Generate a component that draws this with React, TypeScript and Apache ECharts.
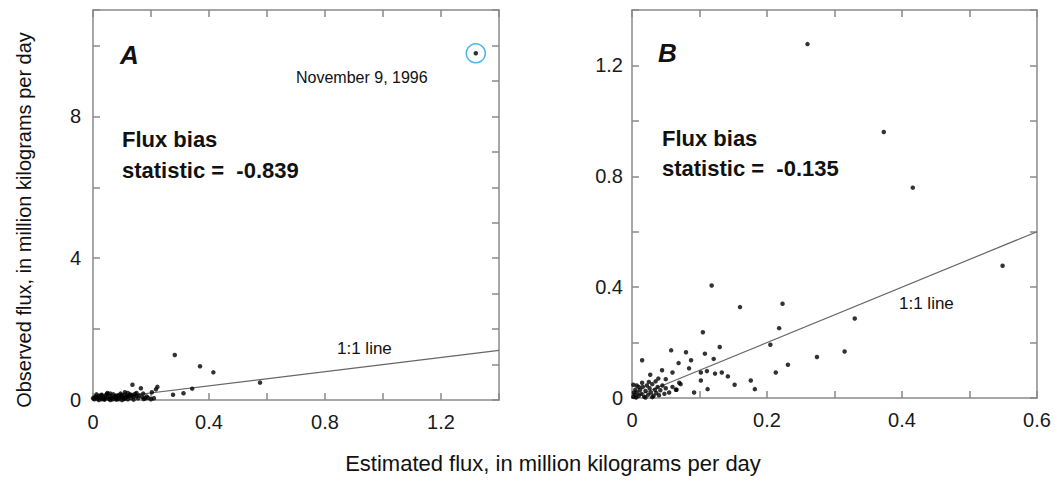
import React, { useEffect, useRef } from "react";
import * as echarts from "echarts";

// Panel A: estimated vs observed flux (million kg/day)
const aEstimated = [
  1.32, 0.282, 0.369, 0.415, 0.576, 0.342, 0.312, 0.276, 0.222, 0.217, 0.203, 0.136, 0.165, 0.18, 0.21, 0.173,
  0.005, 0.01, 0.015, 0.02, 0.025, 0.03, 0.035, 0.04, 0.045, 0.05, 0.055, 0.06, 0.065, 0.07, 0.075, 0.08,
  0.085, 0.09, 0.095, 0.1, 0.105, 0.11, 0.115, 0.12, 0.125, 0.13, 0.135, 0.14, 0.145, 0.15, 0.155, 0.16,
  0.17, 0.175, 0.185, 0.19, 0.2, 0.02, 0.04, 0.06, 0.08, 0.1, 0.12, 0.14, 0.03, 0.06, 0.09, 0.11, 0.15,
  0.008, 0.012, 0.05, 0.0, 0.018, 0.028, 0.038, 0.048, 0.068, 0.078, 0.088, 0.098, 0.108, 0.118, 0.128,
];
const aObserved = [
  9.78, 1.27, 0.95, 0.78, 0.49, 0.32, 0.19, 0.15, 0.37, 0.3, 0.22, 0.43, 0.33, 0.05, 0.05, 0.18,
  0.02, 0.08, 0.04, 0.12, 0.06, 0.02, 0.1, 0.05, 0.14, 0.08, 0.03, 0.11, 0.06, 0.16, 0.09, 0.04,
  0.13, 0.07, 0.18, 0.1, 0.05, 0.15, 0.08, 0.2, 0.12, 0.06, 0.14, 0.09, 0.17, 0.11, 0.05, 0.13,
  0.08, 0.03, 0.1, 0.06, 0.02, 0.0, 0.01, 0.0, 0.01, 0.0, 0.02, 0.01, 0.15, 0.18, 0.12, 0.22, 0.2,
  0.1, 0.16, 0.2, 0.05, 0.07, 0.13, 0.03, 0.17, 0.02, 0.12, 0.02, 0.14, 0.03, 0.11, 0.16,
];
const aHighlighted = [[1.32, 9.78]];

// Panel B
const bEstimated = [
  0.26, 0.373, 0.416, 0.549, 0.118, 0.16, 0.223, 0.218, 0.33, 0.105, 0.205, 0.315, 0.274, 0.231, 0.213,
  0.13, 0.108, 0.121, 0.058, 0.08, 0.0875, 0.069, 0.015, 0.0845, 0.0445, 0.027, 0.06, 0.102, 0.111, 0.123,
  0.133, 0.142, 0.102, 0.152, 0.176, 0.182, 0.112, 0.092, 0.066, 0.05, 0.072, 0.039, 0.002,
  0.002, 0.004, 0.006, 0.008, 0.01, 0.012, 0.014, 0.016, 0.018, 0.02, 0.022, 0.024, 0.026, 0.028, 0.03,
  0.032, 0.034, 0.036, 0.038, 0.04, 0.042, 0.045, 0.048, 0.05, 0.01, 0.015, 0.005, 0.025, 0.003, 0.007,
  0.02, 0.03, 0.055, 0.06, 0.065, 0.07, 0.035,
];
const bObserved = [
  1.277, 0.96, 0.759, 0.477, 0.406, 0.328, 0.34, 0.252, 0.287, 0.237, 0.192, 0.168, 0.148, 0.12, 0.092,
  0.184, 0.16, 0.141, 0.172, 0.165, 0.136, 0.126, 0.136, 0.107, 0.1, 0.084, 0.092, 0.092, 0.097, 0.088,
  0.092, 0.078, 0.063, 0.048, 0.063, 0.032, 0.032, 0.02, 0.03, 0.068, 0.05, 0.07, 0.048,
  0.004, 0.012, 0.002, 0.02, 0.008, 0.03, 0.015, 0.04, 0.005, 0.025, 0.045, 0.012, 0.035, 0.02, 0.05,
  0.008, 0.03, 0.018, 0.04, 0.01, 0.028, 0.045, 0.015, 0.035, 0.04, 0.055, 0.03, 0.058, 0.02, 0.045,
  0.002, 0.003, 0.02, 0.04, 0.03, 0.055, 0.06,
];

const oneToOneA = [0, 1.4];
const oneToOneB = [0, 0.6];

const FONT = "Liberation Sans, Arial, Helvetica, sans-serif";
const AXIS_COLOR = "#8a8a8a";

function fmt(step: number) {
  return (v: number) => {
    const k = Math.round((v / step) * 1000) / 1000;
    return Math.abs(k - Math.round(k)) < 1e-6 ? String(+v.toFixed(2)) : "";
  };
}

function axis(o: any) {
  return {
    type: "value",
    gridIndex: o.grid,
    position: o.position,
    min: o.min,
    max: o.max,
    interval: o.interval,
    axisLine: { show: true, onZero: false, lineStyle: { color: AXIS_COLOR, width: 1.5 } },
    axisTick: { show: true, inside: true, length: 7, lineStyle: { color: AXIS_COLOR, width: 1.5 } },
    axisLabel: o.labelStep
      ? {
          show: true,
          margin: o.margin,
          fontFamily: FONT,
          fontSize: 20,
          color: "#1a1a1a",
          formatter: fmt(o.labelStep),
          showMinLabel: true,
          showMaxLabel: true,
        }
      : { show: false },
    splitLine: { show: false },
  };
}

export default function App() {
  const ref = useRef<HTMLDivElement>(null);
  useEffect(() => {
    document.body.style.margin = "0";
    const chart = echarts.init(ref.current!, undefined, { renderer: "svg" });
    const ptsA = aEstimated.map((x, i) => [x, aObserved[i]]);
    const ptsB = bEstimated.map((x, i) => [x, bObserved[i]]);
    const text = (
      t: string,
      x: number,
      y: number,
      size: number,
      weight = "normal",
      fontStyle = "normal",
      align = "left",
      rotation = 0
    ) => ({
      type: "text",
      x,
      y,
      rotation,
      style: {
        text: t,
        fontFamily: FONT,
        fontSize: size,
        fontWeight: weight,
        fontStyle,
        fill: "#111",
        align,
        verticalAlign: "middle",
        textAlign: align,
        textVerticalAlign: "middle",
      },
    });
    chart.setOption({
      animation: false,
      backgroundColor: "#fff",
      grid: [
        { left: 93, top: 10, width: 406, height: 390 },
        { left: 632, top: 10, width: 405, height: 388 },
      ],
      xAxis: [
        axis({ grid: 0, position: "bottom", min: 0, max: 1.4, interval: 0.2, labelStep: 0.4, margin: 12 }),
        axis({ grid: 0, position: "top", min: 0, max: 1.4, interval: 0.2 }),
        axis({ grid: 1, position: "bottom", min: 0, max: 0.6, interval: 0.1, labelStep: 0.2, margin: 12 }),
        axis({ grid: 1, position: "top", min: 0, max: 0.6, interval: 0.1 }),
      ],
      yAxis: [
        axis({ grid: 0, position: "left", min: 0, max: 11, interval: 2, labelStep: 4, margin: 12 }),
        axis({ grid: 0, position: "right", min: 0, max: 11, interval: 1 }),
        axis({ grid: 1, position: "left", min: 0, max: 1.4, interval: 0.2, labelStep: 0.4, margin: 9 }),
        axis({ grid: 1, position: "right", min: 0, max: 1.4, interval: 0.2 }),
      ],
      series: [
        {
          type: "line",
          xAxisIndex: 0,
          yAxisIndex: 0,
          data: oneToOneA.map((v) => [v, v]),
          symbol: "none",
          lineStyle: { color: "#666", width: 1.2 },
          z: 1,
        },
        {
          type: "scatter",
          xAxisIndex: 0,
          yAxisIndex: 0,
          data: ptsA,
          symbol: "circle",
          symbolSize: 4.5,
          itemStyle: { color: "#000" },
          z: 2,
        },
        {
          type: "scatter",
          xAxisIndex: 0,
          yAxisIndex: 0,
          data: aHighlighted,
          symbol: "circle",
          symbolSize: 19,
          itemStyle: { color: "transparent", borderColor: "#1ba1e2", borderWidth: 1.5 },
          z: 3,
        },
        {
          type: "line",
          xAxisIndex: 2,
          yAxisIndex: 2,
          data: oneToOneB.map((v) => [v, v]),
          symbol: "none",
          lineStyle: { color: "#666", width: 1.2 },
          z: 1,
        },
        {
          type: "scatter",
          xAxisIndex: 2,
          yAxisIndex: 2,
          data: ptsB,
          symbol: "circle",
          symbolSize: 4.5,
          itemStyle: { color: "#000" },
          z: 2,
        },
      ],
      graphic: [
        text("A", 120, 55, 26, "bold", "italic"),
        text("November 9, 1996", 296, 77, 16),
        text("Flux bias", 122, 139, 22, "bold"),
        text("statistic =  -0.839", 122, 170, 22, "bold"),
        text("1:1 line", 337, 348, 17),
        text("B", 658, 53, 26, "bold", "italic"),
        text("Flux bias", 662, 138, 22, "bold"),
        text("statistic =  -0.135", 662, 168, 22, "bold"),
        text("1:1 line", 899, 303, 17),
        text("Estimated flux, in million kilograms per day", 553, 463, 22, "normal", "normal", "center"),
        text("Observed flux, in million kilograms per day", 24, 220, 20, "normal", "normal", "center", Math.PI / 2),
      ],
    });
    return () => chart.dispose();
  }, []);
  return <div ref={ref} style={{ width: 1055, height: 481 }} />;
}
